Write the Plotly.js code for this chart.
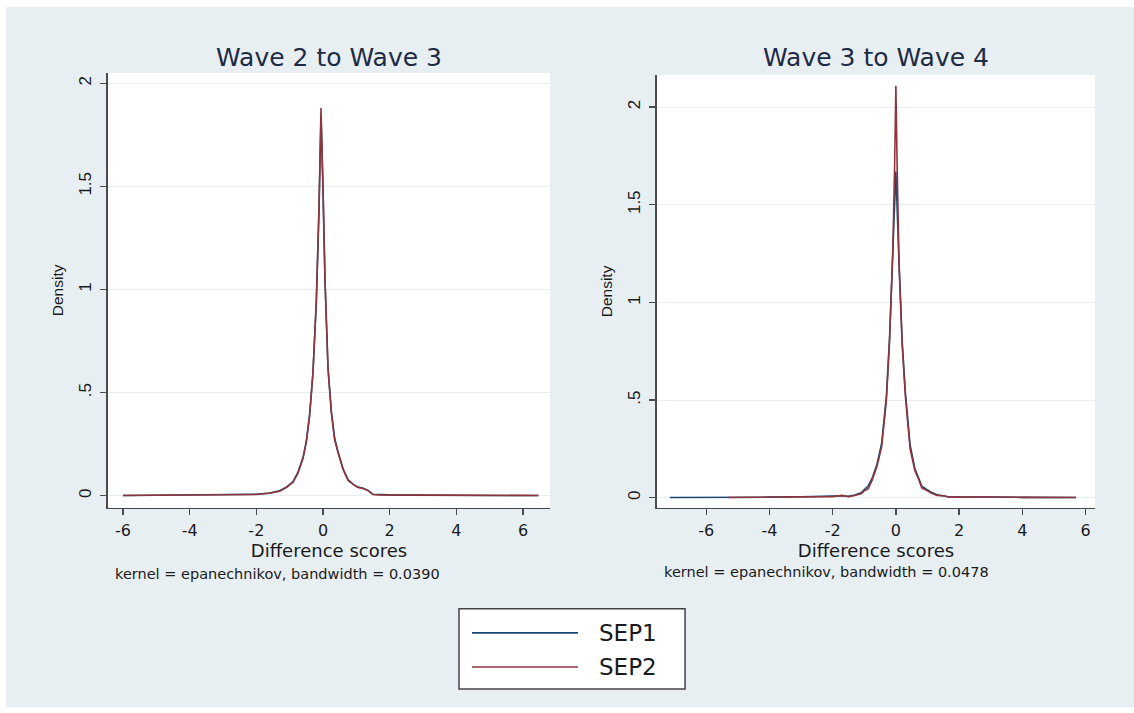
<!DOCTYPE html>
<html>
<head>
<meta charset="utf-8">
<script src="https://cdn.plot.ly/plotly-3.0.1.min.js"></script>
<style>
  html, body { margin: 0; padding: 0; background: #ffffff; width: 1134px; height: 713px; overflow: hidden; }
  #chart { position: absolute; left: 6px; top: 7px; width: 1128px; height: 700px; }
</style>
</head>
<body>
<div id="chart"></div>
<script>
// ---- Data ----
const panelTitles = ["Wave 2 to Wave 3", "Wave 3 to Wave 4"];
const seriesNames = ["SEP1", "SEP2"];
const xTickVals = [-6, -4, -2, 0, 2, 4, 6];
const xTickText = ["-6", "-4", "-2", "0", "2", "4", "6"];
const yTickVals = [0, 0.5, 1, 1.5, 2];
const yTickText = ["0", ".5", "1", "1.5", "2"];
const notes = ["kernel = epanechnikov, bandwidth = 0.0390", "kernel = epanechnikov, bandwidth = 0.0478"];

// Wave 2 -> Wave 3
const w23_sep1_x = [-6, -5, -4, -3, -2.5, -2, -1.6, -1.3, -1.1, -0.9, -0.75, -0.6, -0.5, -0.4, -0.3, -0.2, -0.12, -0.06, 0.0, 0.06, 0.15, 0.25, 0.35, 0.45, 0.6, 0.75, 0.9, 1.05, 1.2, 1.35, 1.5, 1.7, 2, 2.5, 3, 4, 5, 6, 6.46];
const w23_sep1_y = [0.001, 0.002, 0.002, 0.004, 0.005, 0.007, 0.013, 0.024, 0.042, 0.068, 0.115, 0.185, 0.265, 0.395, 0.6, 0.94, 1.38, 1.84, 1.48, 1.04, 0.62, 0.41, 0.28, 0.21, 0.13, 0.078, 0.056, 0.042, 0.036, 0.026, 0.007, 0.005, 0.004, 0.003, 0.003, 0.002, 0.002, 0.001, 0.001];
const w23_sep2_x = [-6, -5, -4, -3, -2.5, -2, -1.6, -1.3, -1.1, -0.9, -0.75, -0.6, -0.5, -0.4, -0.3, -0.2, -0.12, -0.06, 0.0, 0.06, 0.15, 0.25, 0.35, 0.45, 0.6, 0.75, 0.9, 1.05, 1.2, 1.35, 1.5, 1.7, 2, 2.5, 3, 4, 5, 6, 6.46];
const w23_sep2_y = [0.001, 0.002, 0.002, 0.004, 0.005, 0.006, 0.012, 0.022, 0.04, 0.065, 0.11, 0.18, 0.26, 0.39, 0.6, 0.95, 1.4, 1.88, 1.5, 1.05, 0.62, 0.4, 0.27, 0.21, 0.13, 0.075, 0.055, 0.04, 0.035, 0.025, 0.006, 0.004, 0.004, 0.003, 0.003, 0.002, 0.002, 0.001, 0.001];

// Wave 3 -> Wave 4
const w34_sep1_x = [-7.15, -6, -5.3, -4.5, -4, -3, -2.5, -2, -1.7, -1.5, -1.3, -1.1, -1.0, -0.88, -0.75, -0.6, -0.45, -0.3, -0.2, -0.1, 0, 0.1, 0.2, 0.3, 0.45, 0.6, 0.72, 0.82, 0.95, 1.1, 1.3, 1.5, 1.7, 2, 2.5, 3, 4, 5, 5.7];
const w34_sep1_y = [0.001, 0.001, 0.001, 0.002, 0.003, 0.005, 0.007, 0.007, 0.01, 0.007, 0.014, 0.025, 0.04, 0.06, 0.1, 0.17, 0.28, 0.52, 0.82, 1.22, 1.67, 1.2, 0.8, 0.54, 0.27, 0.15, 0.1, 0.06, 0.045, 0.03, 0.015, 0.01, 0.004, 0.004, 0.005, 0.004, 0.002, 0.002, 0.001];
const w34_sep2_x = [-5.3, -4.5, -4, -3, -2.5, -2, -1.7, -1.5, -1.3, -1.1, -1.0, -0.88, -0.75, -0.6, -0.45, -0.3, -0.2, -0.1, -0.04, 0, 0.04, 0.1, 0.2, 0.3, 0.45, 0.6, 0.72, 0.82, 0.95, 1.1, 1.3, 1.5, 1.7, 2, 2.5, 3, 4, 5, 5.7];
const w34_sep2_y = [0.001, 0.002, 0.003, 0.006, 0.008, 0.006, 0.012, 0.005, 0.012, 0.02, 0.035, 0.045, 0.09, 0.16, 0.26, 0.5, 0.8, 1.25, 1.7, 2.11, 1.7, 1.2, 0.78, 0.52, 0.25, 0.14, 0.095, 0.05, 0.04, 0.025, 0.012, 0.01, 0.003, 0.004, 0.006, 0.004, 0.002, 0.002, 0.001];

// ---- Styling ----
const colSEP1 = "#1a476f";
const colSEP2 = "#90353b";
const bg = "#e8eff2";
const axisCol = "#4a4a4a";
const gridCol = "#e6eef0";
const hFont = "DejaVu Sans, Liberation Sans, Arial, sans-serif";
const vFont = "Liberation Sans, Arial, sans-serif";

function line(x, y, name, color, xa, ya) {
  return { type: "scatter", mode: "lines", x: x, y: y, name: name, xaxis: xa, yaxis: ya,
           line: { color: color, width: 1.6 }, showlegend: false, hoverinfo: "skip" };
}

const traces = [
  line(w23_sep1_x, w23_sep1_y, seriesNames[0], colSEP1, "x", "y"),
  line(w23_sep2_x, w23_sep2_y, seriesNames[1], colSEP2, "x", "y"),
  line(w34_sep1_x, w34_sep1_y, seriesNames[0], colSEP1, "x2", "y2"),
  line(w34_sep2_x, w34_sep2_y, seriesNames[1], colSEP2, "x2", "y2")
];

function xAxis(domain, range, anchor) {
  return {
    domain: domain, range: range, anchor: anchor,
    tickvals: xTickVals, ticktext: xTickText,
    ticks: "outside", ticklen: 6, tickwidth: 1.3, tickcolor: axisCol,
    showline: true, linecolor: axisCol, linewidth: 1.5,
    showgrid: false, zeroline: false,
    tickfont: { family: hFont, size: 16, color: "#1a1a1a" },
    ticklabelstandoff: 2,
    title: { text: "Difference scores", font: { family: hFont, size: 18, color: "#1a1a1a" }, standoff: 4 },
    fixedrange: true
  };
}
function yAxis(domain, range, anchor) {
  return {
    domain: domain, range: range, anchor: anchor,
    tickvals: yTickVals, ticktext: yTickText, tickangle: -90,
    ticks: "outside", ticklen: 6, tickwidth: 1.3, tickcolor: axisCol,
    showline: true, linecolor: axisCol, linewidth: 1.5,
    showgrid: true, gridcolor: gridCol, gridwidth: 1, zeroline: false,
    tickfont: { family: vFont, size: 17, color: "#1a1a1a" },
    ticklabelstandoff: 3,
    title: { text: "Density", font: { family: vFont, size: 15.5, color: "#1a1a1a" }, standoff: 8 },
    fixedrange: true
  };
}

const layout = {
  width: 1128, height: 700,
  margin: { l: 0, r: 0, t: 0, b: 0, pad: 0 },
  paper_bgcolor: bg, plot_bgcolor: "#ffffff",
  showlegend: false,
  xaxis: xAxis([0.0904, 0.4823], [-6.45, 6.81], "y"),
  yaxis: yAxis([0.2847, 0.9056], [-0.058, 2.049], "x"),
  xaxis2: xAxis([0.5771, 0.9654], [-7.56, 6.30], "y2"),
  yaxis2: yAxis([0.2847, 0.9027], [-0.051, 2.164], "x2"),
  annotations: [
    { text: panelTitles[0], xref: "paper", yref: "paper", x: 0.2863, y: 0.9285, xanchor: "center", yanchor: "middle",
      showarrow: false, font: { family: hFont, size: 25, color: "#1e2b45" } },
    { text: panelTitles[1], xref: "paper", yref: "paper", x: 0.7713, y: 0.9285, xanchor: "center", yanchor: "middle",
      showarrow: false, font: { family: hFont, size: 25, color: "#1e2b45" } },
    { text: notes[0], xref: "paper", yref: "paper", x: 0.0949, y: 0.1903, xanchor: "left", yanchor: "middle",
      showarrow: false, font: { family: hFont, size: 14.5, color: "#1a1a1a" } },
    { text: notes[1], xref: "paper", yref: "paper", x: 0.5816, y: 0.1931, xanchor: "left", yanchor: "middle",
      showarrow: false, font: { family: hFont, size: 14.5, color: "#1a1a1a" } },
    { text: seriesNames[0], xref: "paper", yref: "paper", x: 0.5239, y: 0.1059, xanchor: "left", yanchor: "middle",
      showarrow: false, font: { family: hFont, size: 23, color: "#1a1a1a" } },
    { text: seriesNames[1], xref: "paper", yref: "paper", x: 0.5239, y: 0.0572, xanchor: "left", yanchor: "middle",
      showarrow: false, font: { family: hFont, size: 23, color: "#1a1a1a" } }
  ],
  shapes: [
    { type: "rect", xref: "paper", yref: "paper", x0: 0.4016, x1: 0.6020, y0: 0.0258, y1: 0.1402,
      line: { color: "#444444", width: 1.5 }, fillcolor: "#ffffff", layer: "below" },
    { type: "line", xref: "paper", yref: "paper", x0: 0.4131, x1: 0.5071, y0: 0.1059, y1: 0.1059,
      line: { color: colSEP1, width: 1.6 } },
    { type: "line", xref: "paper", yref: "paper", x0: 0.4131, x1: 0.5071, y0: 0.0572, y1: 0.0572,
      line: { color: colSEP2, width: 1.6 } }
  ]
};

Plotly.newPlot("chart", traces, layout, { displayModeBar: false, staticPlot: true });
</script>
</body>
</html>
